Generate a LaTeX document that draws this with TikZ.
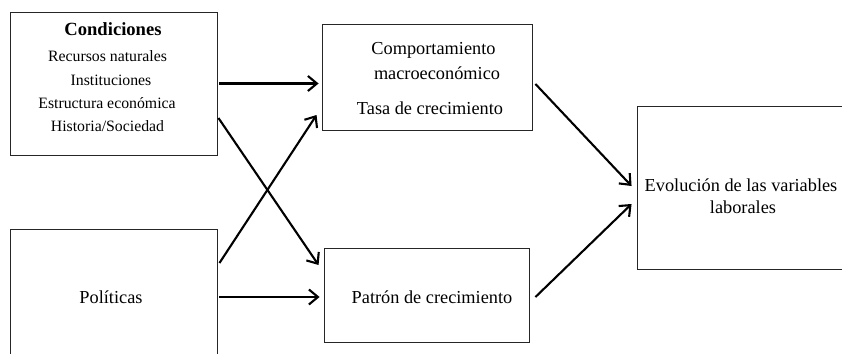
\documentclass[tikz,border=0pt]{standalone}
\usepackage{fontspec}
\setmainfont{Liberation Serif}
\usetikzlibrary{arrows.meta}
\begin{document}
\begin{tikzpicture}[x=1pt,y=-1pt,
  box/.style={draw=black!85,line width=0.9pt,inner sep=0pt,anchor=center},
  txt/.style={inner sep=0pt,anchor=base,font=\fontsize{18.3}{21}\selectfont},
  small/.style={inner sep=0pt,anchor=base,font=\fontsize{15.8}{19}\selectfont},
  head/.style={inner sep=0pt,anchor=base,font=\fontsize{18.6}{21}\selectfont\bfseries},
  arr/.style={line width=2.1pt,-{Straight Barb[length=9pt,width=15pt,line width=2.1pt]}}]
\useasboundingbox (0,0) rectangle (842,353);
\clip (0,0) rectangle (842,353);
\fill[white] (0,0) rectangle (842,353);
% boxes
\node[box,minimum width=207pt,minimum height=143pt] (cond) at (113.5,83.5) {};
\node[box,minimum width=207pt,minimum height=141pt] (pol) at (113.5,299.5) {};
\node[box,minimum width=210pt,minimum height=106pt] (comp) at (427,77) {};
\node[box,minimum width=205pt,minimum height=94pt] (pat) at (426.5,295) {};
\node[box,minimum width=212pt,minimum height=163pt] (evo) at (743,187.5) {};
% texts
\node[head] (t1) at (113,36) {Condiciones};
\node[small] (t2) at (107.5,61) {Recursos naturales};
\node[small] (t3) at (111,85) {Instituciones};
\node[small] (t4) at (107,108) {Estructura económica};
\node[small] (t5) at (107.5,131) {Historia/Sociedad};
\node[txt] (t6) at (111,303) {Políticas};
\node[txt] (t7) at (433.5,55) {Comportamiento};
\node[txt] (t8) at (437,79) {macroeconómico};
\node[txt] (t9) at (430,114) {Tasa de crecimiento};
\node[txt] (t10) at (432,303) {Patrón de crecimiento};
\node[txt] (t11) at (741,191) {Evolución de las variables};
\node[txt] (t12) at (743,213) {laborales};
% connectors
\draw[arr] ([xshift=2pt]cond.east) -- ([xshift=-3pt]comp.west |- cond.east);
\draw[arr] ([xshift=1pt,yshift=-34.5pt]cond.east) -- ([xshift=-5pt,yshift=30pt]pat.west);
\draw[arr] ([xshift=2pt,yshift=36.5pt]pol.east) -- ([xshift=-5pt,yshift=-38pt]comp.west);
\draw[arr] ([xshift=2pt,yshift=2.5pt]pol.east) -- ([xshift=-4pt,yshift=-2pt]pat.west);
\draw[arr] ([xshift=3pt,yshift=-7pt]comp.east) -- ([xshift=-5pt,yshift=1.5pt]evo.west);
\draw[arr] ([xshift=6pt,yshift=-2pt]pat.east) -- ([xshift=-5pt,yshift=-16.5pt]evo.west);
\end{tikzpicture}
\end{document}
